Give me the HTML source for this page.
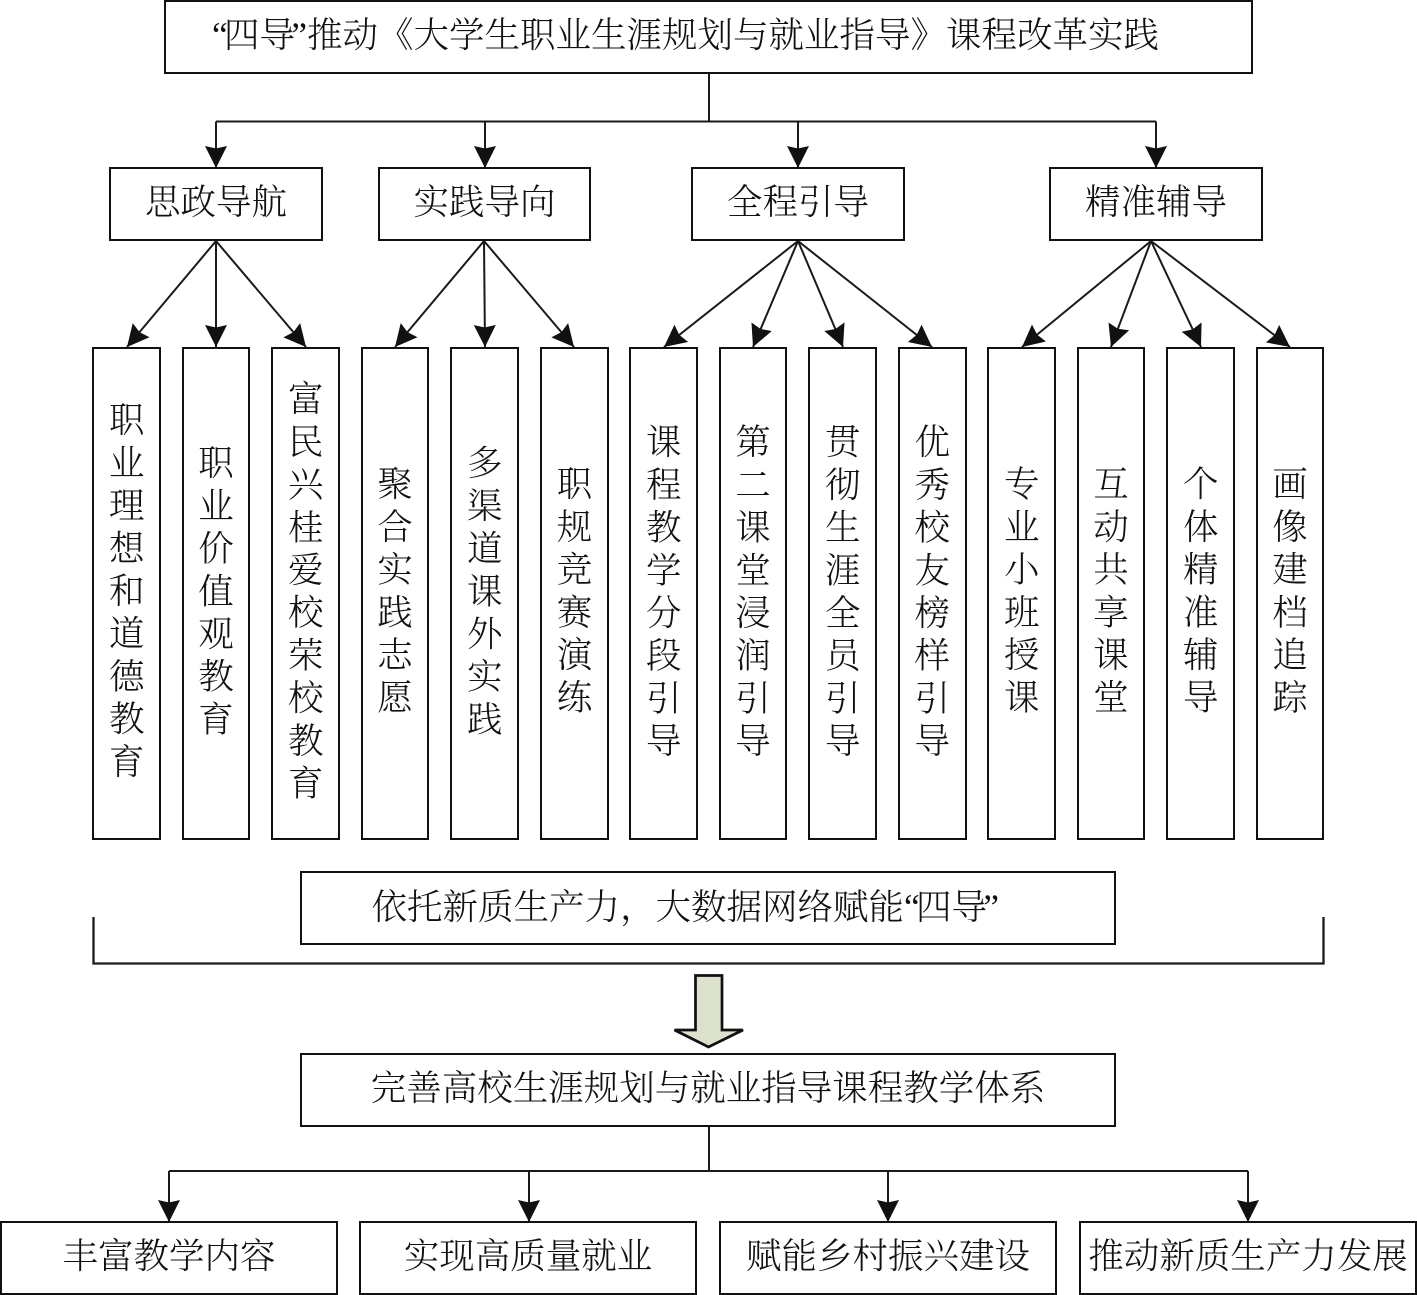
<!DOCTYPE html>
<html lang="zh">
<head>
<meta charset="utf-8">
<style>
html,body{margin:0;padding:0;background:#fff}
#c{position:relative;width:1417px;height:1295px;overflow:hidden;font-family:"Liberation Serif","Noto Serif CJK SC",serif;color:#111;font-weight:300}
svg{position:absolute;left:0;top:0}
.b{position:absolute;box-sizing:border-box;border:2.7px solid #111;background:#fff;display:flex;align-items:center;justify-content:center;font-size:35.5px;line-height:1;white-space:nowrap}
.h{height:74px;padding-bottom:2px}
.v{top:347px;width:69px;height:493px;writing-mode:vertical-rl;text-orientation:upright;letter-spacing:7.2px;padding:0 6px 0 0}
.n{width:68.500px}
.q{margin-right:-3.8px}
.p{margin-left:-3.8px}
.l{justify-content:flex-start}
</style>
</head>
<body>
<div id="c">
<svg width="1417" height="1295" viewBox="0 0 1417 1295">
<defs>
<marker id="a" markerUnits="userSpaceOnUse" markerWidth="24" markerHeight="24" refX="22" refY="11" orient="auto"><path d="M0,0 L22,11 L0,22 L2.500,11Z" fill="#111"/></marker>
</defs>
<g fill="none" stroke="#1a1a1a" stroke-width="2">
<path d="M709 73V121.500M216 121.500H1156"/>
<path d="M216 121.500V168" marker-end="url(#a)"/>
<path d="M485 121.500V168" marker-end="url(#a)"/>
<path d="M798 121.500V168" marker-end="url(#a)"/>
<path d="M1156 121.500V168" marker-end="url(#a)"/>
<path d="M216 241L127 347" marker-end="url(#a)"/>
<path d="M216 241L216 347" marker-end="url(#a)"/>
<path d="M216 241L306 347" marker-end="url(#a)"/>
<path d="M484 241L395 347" marker-end="url(#a)"/>
<path d="M484 241L485 347" marker-end="url(#a)"/>
<path d="M484 241L574 347" marker-end="url(#a)"/>
<path d="M798 241L664 347" marker-end="url(#a)"/>
<path d="M798 241L753 347" marker-end="url(#a)"/>
<path d="M798 241L843 347" marker-end="url(#a)"/>
<path d="M798 241L932 347" marker-end="url(#a)"/>
<path d="M1151 241L1022 347" marker-end="url(#a)"/>
<path d="M1151 241L1111 347" marker-end="url(#a)"/>
<path d="M1151 241L1201 347" marker-end="url(#a)"/>
<path d="M1151 241L1290 347" marker-end="url(#a)"/>
<path d="M93.500 917V963.500H1323.500V917" stroke-width="2.300"/>
<path d="M709 1126V1171M169 1171H1248"/>
<path d="M169 1171V1222" marker-end="url(#a)"/>
<path d="M529 1171V1222" marker-end="url(#a)"/>
<path d="M888 1171V1222" marker-end="url(#a)"/>
<path d="M1248 1171V1222" marker-end="url(#a)"/>
</g>
<path d="M695.500 975.500H722V1030H743L708.500 1047L674.500 1030H695.500Z" fill="#dde2cc" stroke="#111" stroke-width="2.700"/>
</svg>

<div class="b l" style="left:164px;top:0;width:1089px;height:74px;padding:0 0 2px 46px"><span class="q">“</span>四导<span class="p">”</span>推动《大学生职业生涯规划与就业指导》课程改革实践</div>

<div class="b h" style="left:109px;top:167px;width:214px">思政导航</div>
<div class="b h" style="left:378px;top:167px;width:213px">实践导向</div>
<div class="b h" style="left:691px;top:167px;width:214px">全程引导</div>
<div class="b h" style="left:1049px;top:167px;width:214px">精准辅导</div>

<div class="b v" style="left:92px">职业理想和道德教育</div>
<div class="b v n" style="left:181.500px">职业价值观教育</div>
<div class="b v" style="left:271px">富民兴桂爱校荣校教育</div>
<div class="b v n" style="left:360.500px">聚合实践志愿</div>
<div class="b v" style="left:450px">多渠道课外实践</div>
<div class="b v n" style="left:540px">职规竞赛演练</div>
<div class="b v" style="left:629px">课程教学分段引导</div>
<div class="b v n" style="left:718.500px">第二课堂浸润引导</div>
<div class="b v" style="left:808px">贯彻生涯全员引导</div>
<div class="b v" style="left:897.500px">优秀校友榜样引导</div>
<div class="b v" style="left:987px">专业小班授课</div>
<div class="b v n" style="left:1076.500px">互动共享课堂</div>
<div class="b v" style="left:1166px">个体精准辅导</div>
<div class="b v n" style="left:1255.500px">画像建档追踪</div>

<div class="b h l" style="left:300px;top:871px;width:816px;padding-left:69.500px;padding-bottom:1px">依托新质生产力，大数据网络赋能<span class="q">“</span>四导<span class="p">”</span></div>
<div class="b h" style="left:300px;top:1053px;width:816px">完善高校生涯规划与就业指导课程教学体系</div>

<div class="b h" style="left:0;top:1221px;width:338px;padding-bottom:3px">丰富教学内容</div>
<div class="b h" style="left:359px;top:1221px;width:338px;padding-bottom:3px">实现高质量就业</div>
<div class="b h" style="left:719px;top:1221px;width:338px;padding-bottom:3px">赋能乡村振兴建设</div>
<div class="b h" style="left:1079px;top:1221px;width:338px;padding-bottom:3px">推动新质生产力发展</div>
</div>
</body>
</html>
